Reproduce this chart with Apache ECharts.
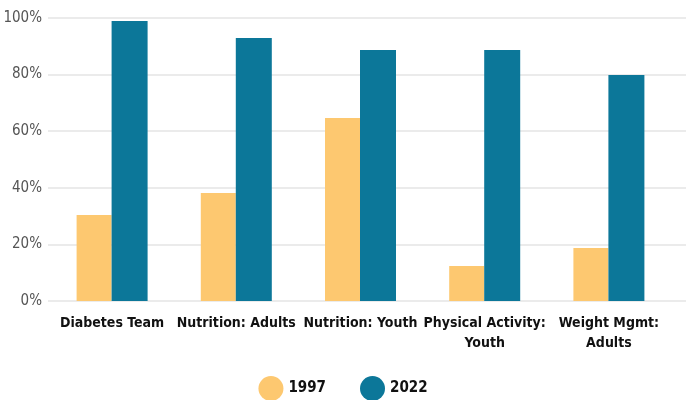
<!DOCTYPE html>
<html>
<head>
<meta charset="utf-8">
<script src="https://cdn.jsdelivr.net/npm/echarts@6/dist/echarts.min.js"></script>
<style>
  html, body { margin: 0; padding: 0; background: #fff; }
  #chart { width: 686px; height: 400px; }
</style>
</head>
<body>
<div id="chart"></div>
<script>
var categories = ["Diabetes Team", "Nutrition: Adults", "Nutrition: Youth", "Physical Activity:\nYouth", "Weight Mgmt:\nAdults"];
var values1997 = [30.4, 38.2, 64.7, 12.4, 18.7];
var values2022 = [98.9, 92.9, 88.7, 88.7, 79.9];
var yTicks = [0, 20, 40, 60, 80, 100];

document.addEventListener("DOMContentLoaded", function () {
  var chart = echarts.init(document.getElementById("chart"));
  var font = "'Liberation Sans Narrow', 'DejaVu Sans Condensed', sans-serif";

  // grid 0 carries the y labels and full-width gridlines, grid 1 the bars
  var option = {
    animation: false,
    grid: [
      { left: 48, right: 0, top: 18, bottom: 99 },
      { left: 50, right: 15, top: 18, bottom: 99 }
    ],
    legend: {
      top: 371,
      left: "center",
      icon: "circle",
      itemWidth: 25,
      itemHeight: 25,
      itemGap: 34,
      textStyle: { fontFamily: font, fontWeight: "bold", fontSize: 15, color: "#111" },
      data: ["1997", "2022"]
    },
    xAxis: [
      { type: "value", gridIndex: 0, show: false },
      {
        type: "category",
        gridIndex: 1,
        data: categories,
        axisLine: { show: false },
        axisTick: { show: false },
        axisLabel: {
          interval: 0,
          margin: 12,
          fontFamily: font,
          fontWeight: "bold",
          fontSize: 14,
          color: "#111",
          lineHeight: 20
        }
      }
    ],
    yAxis: [
      {
        type: "value",
        gridIndex: 0,
        min: yTicks[0],
        max: yTicks[yTicks.length - 1],
        interval: 20,
        axisLine: { show: false },
        axisTick: { show: false },
        splitLine: { lineStyle: { color: "#ebebeb", width: 2 } },
        axisLabel: {
          margin: 6,
          fontFamily: font,
          fontSize: 15,
          color: "#555",
          formatter: "{value}%"
        }
      },
      {
        type: "value",
        gridIndex: 1,
        min: yTicks[0],
        max: yTicks[yTicks.length - 1],
        interval: 20,
        show: false,
        splitLine: { show: false }
      }
    ],
    series: [
      {
        name: "1997",
        type: "bar",
        xAxisIndex: 1,
        yAxisIndex: 1,
        data: values1997,
        barWidth: 35,
        barGap: "0%",
        itemStyle: { color: "#fdc870" }
      },
      {
        name: "2022",
        type: "bar",
        xAxisIndex: 1,
        yAxisIndex: 1,
        data: values2022,
        barWidth: 36,
        itemStyle: { color: "#0c7799" }
      }
    ]
  };

  chart.setOption(option);
});
</script>
</body>
</html>
